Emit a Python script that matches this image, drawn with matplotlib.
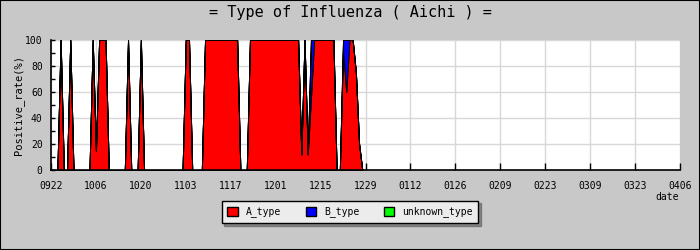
import matplotlib
matplotlib.use("Agg")
import matplotlib.pyplot as plt
import matplotlib.patches as mpatches
import numpy as np

# daily positive rate (%) starting 09/22
a_type = [0, 0, 0, 100, 0, 0, 100, 0, 0, 0,
          0, 0, 0, 100, 15, 100, 100, 100, 0, 0,
          0, 0, 0, 0, 100, 0, 0, 0, 100, 0,
          0, 0, 0, 0, 0, 0, 0, 0, 0, 0,
          0, 0, 100, 100, 0, 0, 0, 0, 100, 100,
          100, 100, 100, 100, 100, 100, 100, 100, 100, 0,
          0, 0, 100, 100, 100, 100, 100, 100, 100, 100,
          100, 100, 100, 100, 100, 100, 100, 100, 12, 100,
          12, 55, 100, 100, 100, 100, 100, 100, 100, 0,
          0, 92, 60, 100, 100, 75, 20, 0]
b_type = [0] * 81 + [45] + [0] * 9 + [8, 40] + [0] * 5
unknown_type = [0] * len(a_type)

tick_labels = ["0922", "1006", "1020", "1103", "1117", "1201", "1215",
               "1229", "0112", "0126", "0209", "0223", "0309", "0323", "0406"]
series_names = ["A_type", "B_type", "unknown_type"]
series_colors = ["#ff0000", "#0000ff", "#00ff00"]

mono = "DejaVu Sans Mono"
bg = "#c8c8c8"

fig = plt.figure(figsize=(7, 2.5), dpi=100)
fig.patch.set_facecolor(bg)
fig.add_artist(mpatches.Rectangle((0, 0), 1, 1, transform=fig.transFigure,
                                  fill=False, edgecolor="black", linewidth=1.5))

ax = fig.add_axes([51 / 700, 1 - 170 / 250, 629 / 700, 130 / 250])
ax.set_facecolor("white")

days = np.arange(len(a_type))
polys = ax.stackplot(days, a_type, b_type, unknown_type, colors=series_colors,
                     edgecolor="black", linewidth=0.7, antialiased=False, zorder=2)
for p in polys:
    p.set_clip_on(False)

n_days = 14 * (len(tick_labels) - 1)
ax.set_xlim(0, n_days)
ax.set_ylim(0, 100)
ax.set_xticks(np.arange(0, n_days + 1, 14))
ax.set_xticklabels(tick_labels, fontsize=7, family=mono)
ax.set_yticks(np.arange(0, 101, 20))
ax.set_yticks(np.arange(0, 101, 10), minor=True)
ax.set_yticklabels([str(v) for v in range(0, 101, 20)], fontsize=7, family=mono)

ax.tick_params(axis="x", direction="in", length=5, width=1, pad=8, top=False)
ax.tick_params(axis="y", which="both", direction="in", length=3, width=1, pad=6, right=False)

ax.grid(True, color="#d8d8d8", linewidth=1, zorder=0)
ax.set_axisbelow(True)
for s in ["top", "right"]:
    ax.spines[s].set_visible(False)
for s in ["left", "bottom"]:
    ax.spines[s].set_linewidth(1.2)
    ax.spines[s].set_zorder(3)

ax.set_ylabel("Positive_rate(%)", fontsize=7.5, family=mono, labelpad=1)
fig.text(667 / 700, 1 - 197 / 250, "date", fontsize=7, family=mono,
         ha="center", va="center")

fig.text(0.5, 1 - 13 / 250, "= Type of Influenza ( Aichi ) =", fontsize=11,
         family=mono, ha="center", va="center")

handles = [mpatches.Patch(facecolor=c, edgecolor="black", linewidth=1, label=n)
           for n, c in zip(series_names, series_colors)]
leg = fig.legend(handles=handles, loc="center", bbox_to_anchor=(0.5, 1 - 212 / 250),
                 ncol=3, prop={"family": mono, "size": 7},
                 frameon=True, fancybox=False, shadow=True, facecolor="#ececec",
                 edgecolor="black", handlelength=1.1, handleheight=1.1,
                 columnspacing=2.5, handletextpad=0.8, borderpad=0.6)
leg.get_frame().set_linewidth(1)

fig.savefig("out.png", dpi=100, facecolor=bg)
